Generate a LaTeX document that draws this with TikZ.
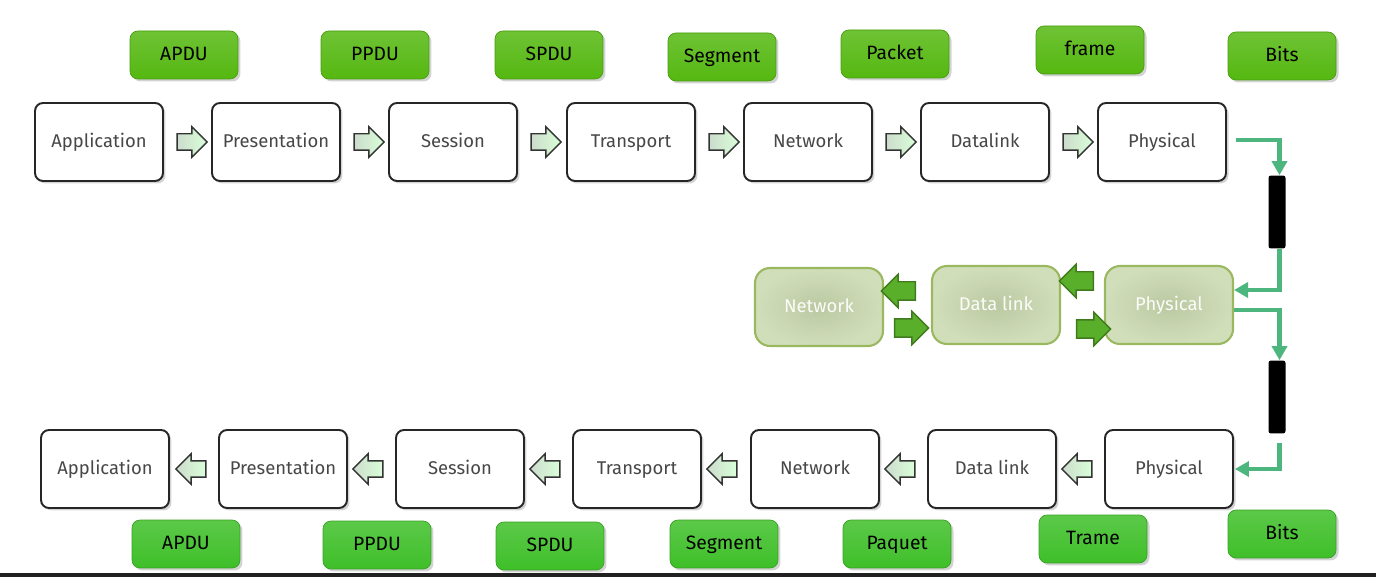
\documentclass[tikz,border=0pt]{standalone}
\usepackage{fontspec}
\setmainfont{Fira Sans}
\usetikzlibrary{shapes.arrows,shadows,arrows.meta}

\definecolor{pduTop}{HTML}{55B811}
\definecolor{pduBot}{HTML}{3FBF29}
\definecolor{linkGreen}{HTML}{4DB57E}
\definecolor{midFill}{HTML}{C9D8AE}
\definecolor{midLine}{HTML}{9AB860}
\definecolor{bigArrow}{HTML}{5AAF2A}

\tikzset{
  layer/.style={draw=black!85, line width=1.1pt, fill=white, rounded corners=0.16cm,
    minimum width=2.56cm, minimum height=1.56cm, text=black!72, font=\fontsize{10.5}{12}\selectfont,
    text height=1.6ex, text depth=0.4ex,
    drop shadow={shadow xshift=0.05cm, shadow yshift=-0.05cm, opacity=0.35}},
  pdu/.style={draw=#1!85!black, line width=0.4pt, rounded corners=0.16cm,
    top color=#1!85!white, bottom color=#1,
    minimum width=2.16cm, minimum height=0.96cm, text=black, font=\fontsize{11}{13}\selectfont,
    text height=1.6ex, text depth=0.4ex,
    drop shadow={shadow xshift=0.05cm, shadow yshift=-0.05cm, opacity=0.35}},
  midlayer/.style={draw=midLine, line width=1.2pt, rounded corners=0.3cm,
    inner color=midFill!93!black, outer color=midFill!85!white,
    minimum width=2.56cm, minimum height=1.56cm, text=white!92!midFill, font=\fontsize{10.5}{12}\selectfont,
    text height=1.6ex, text depth=0.4ex},
  stepR/.style={single arrow, draw=black!80, line width=0.8pt, left color=green!30!black!20!white, right color=green!15!white,
    minimum width=0.6cm, minimum height=0.6cm, inner sep=0.15cm, single arrow head extend=0.14cm},
  stepL/.style={stepR, shape border rotate=180},
  bigR/.style={single arrow, draw=bigArrow!70!black, line width=0.8pt, fill=bigArrow,
    minimum width=0.66cm, minimum height=0.68cm, inner sep=0.17cm, single arrow head extend=0.15cm},
  bigL/.style={bigR, shape border rotate=180},
  medium/.style={fill=black, rounded corners=0.05cm, minimum width=0.34cm, minimum height=1.46cm, inner sep=0pt},
  link/.style={draw=linkGreen, line width=2.3pt, -{Triangle[length=0.28cm,width=0.3cm]}}
}

\begin{document}
\begin{tikzpicture}[x=0.02cm,y=-0.02cm]
  \useasboundingbox (0,0) rectangle (1376,577);
  \fill[black!87] (0,573) rectangle (1376,577);

  % sender stack
  \draw (99,142) node[layer] (appT) {Application};
  \draw (276,142) node[layer] (preT) {Presentation};
  \draw (453,142) node[layer] (sesT) {Session};
  \draw (631,142) node[layer] (traT) {Transport};
  \draw (808,142) node[layer] (netT) {Network};
  \draw (985,142) node[layer] (datT) {Datalink};
  \draw (1162,142) node[layer] (phyT) {Physical};
  \foreach \x in {188,365,542,720,897,1074}
    \draw (\x,142) node[stepR] {};

  \draw (184,55) node[pdu=pduTop] (apduT) {APDU};
  \draw (375,55) node[pdu=pduTop] (ppduT) {PPDU};
  \draw (549,55) node[pdu=pduTop] (spduT) {SPDU};
  \draw (722,57) node[pdu=pduTop] (segT) {Segment};
  \draw (895,54) node[pdu=pduTop] (pakT) {Packet};
  \draw (1090,50) node[pdu=pduTop] (frmT) {frame};
  \draw (1282,56) node[pdu=pduTop] (bitT) {Bits};

  % intermediate node
  \draw (819,307) node[midlayer] (netM) {Network};
  \draw (996,305) node[midlayer] (datM) {Data link};
  \draw (1169,305) node[midlayer] (phyM) {Physical};
  \draw (903,291) node[bigL] {};
  \draw (907,328) node[bigR] {};
  \draw (1081,281) node[bigL] {};
  \draw (1089,329) node[bigR] {};

  % receiver stack
  \draw (105,469) node[layer] (appB) {Application};
  \draw (283,469) node[layer] (preB) {Presentation};
  \draw (460,469) node[layer] (sesB) {Session};
  \draw (637,469) node[layer] (traB) {Transport};
  \draw (815,469) node[layer] (netB) {Network};
  \draw (992,469) node[layer] (datB) {Data link};
  \draw (1169,469) node[layer] (phyB) {Physical};
  \foreach \x in {195,372,549,726,904,1081}
    \draw (\x,469) node[stepL] {};

  \draw (186,544) node[pdu=pduBot] (apduB) {APDU};
  \draw (377,545) node[pdu=pduBot] (ppduB) {PPDU};
  \draw (550,546) node[pdu=pduBot] (spduB) {SPDU};
  \draw (724,544) node[pdu=pduBot] (segB) {Segment};
  \draw (897,544) node[pdu=pduBot] (pakB) {Paquet};
  \draw (1093,539) node[pdu=pduBot] (frmB) {Trame};
  \draw (1282,534) node[pdu=pduBot] (bitB) {Bits};

  % media
  \draw (1277,212) node[medium] (bar1) {};
  \draw (1277,397) node[medium] (bar2) {};
  \path[link] ([xshift=0.18cm,yshift=0.04cm]phyT.east) -| ([xshift=0.05cm]bar1.north);
  \path[link] ([xshift=0.05cm]bar1.south) |- ([yshift=0.3cm]phyM.east);
  \path[link] ([yshift=-0.1cm]phyM.east) -| ([xshift=0.05cm]bar2.north);
  \path[link] ([xshift=0.05cm,yshift=-0.18cm]bar2.south) |- ([xshift=0.02cm]phyB.east);
\end{tikzpicture}
\end{document}
